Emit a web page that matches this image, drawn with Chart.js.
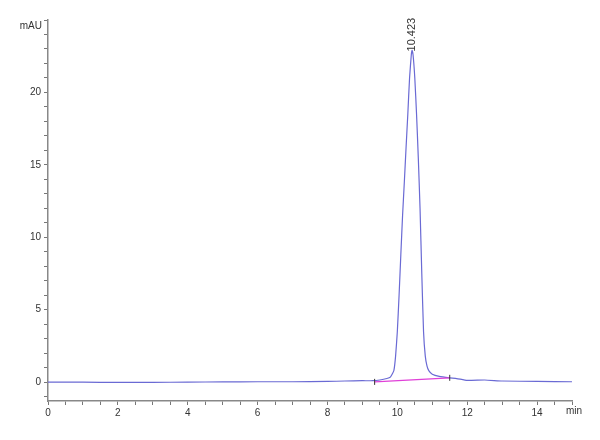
<!DOCTYPE html>
<html lang="en">
<head>
    <meta charset="UTF-8">
    <title>Chromatogram</title>
    <script src="https://cdn.jsdelivr.net/npm/chart.js@4"></script>
    <style>
        body { margin: 0; padding: 0; background: #ffffff; }
        #wrap { width: 600px; height: 440px; }
    </style>
</head>
<body>
    <div id="wrap"><canvas id="chrom" width="600" height="440"></canvas></div>
    <script>
        // signal trace (time in min, absorbance in mAU)
        const times = [0, 1, 2, 3, 4, 5, 6, 7, 8, 8.5, 9.0, 9.3, 9.5, 9.7, 9.8, 9.9, 9.95, 10.0, 10.05, 10.1, 10.15, 10.2, 10.25, 10.3, 10.35, 10.4, 10.42, 10.45, 10.5, 10.55, 10.6, 10.65, 10.7, 10.75, 10.8, 10.85, 10.9, 11.0, 11.2, 11.5, 11.7, 12.0, 12.5, 13.0, 14.0, 15.0];
        const signal = [0.0, 0.0, -0.02, -0.01, 0.0, 0.02, 0.03, 0.03, 0.05, 0.08, 0.1, 0.1, 0.15, 0.25, 0.35, 0.8, 1.8, 3.5, 6.0, 8.8, 11.5, 13.8, 16.2, 18.5, 21.0, 22.6, 22.9, 22.6, 21.0, 18.5, 15.5, 12.0, 7.5, 3.5, 1.8, 1.1, 0.8, 0.55, 0.4, 0.3, 0.25, 0.12, 0.15, 0.08, 0.05, 0.03];

        // integration baseline
        const baseTimes = [9.35, 11.5];
        const baseValues = [0.02, 0.3];

        const peakTime = 10.423;
        const peakHeight = 22.9;
        const peakLabel = '10.423';

        const yLabelSteps = 5;
        const xLabelSteps = 2;

        const trace = times.map((t, i) => ({ x: t, y: signal[i] }));
        const baseline = baseTimes.map((t, i) => ({ x: t, y: baseValues[i] }));

        const textPlugin = {
            id: 'chromText',
            afterDraw(chart) {
                const c = chart.ctx;
                const xs = chart.scales.x, ys = chart.scales.y;
                c.save();
                c.fillStyle = '#333';
                c.font = '10px Arial, "Liberation Sans", sans-serif';
                c.textAlign = 'right';
                c.textBaseline = 'middle';
                c.fillText('mAU', chart.chartArea.left - 6, chart.chartArea.top + 6);
                c.textAlign = 'left';
                c.fillText('min', chart.chartArea.right - 6, chart.chartArea.bottom + 10);
                // peak label, vertical
                const px = xs.getPixelForValue(peakTime);
                const py = ys.getPixelForValue(peakHeight);
                c.translate(px, py + 1);
                c.rotate(-Math.PI / 2);
                c.font = '11px Arial, "Liberation Sans", sans-serif';
                c.textAlign = 'left';
                c.fillText(peakLabel, 0, 0);
                c.restore();
            }
        };

        const ctx = document.getElementById('chrom').getContext('2d');
        new Chart(ctx, {
            type: 'scatter',
            data: {
                datasets: [
                    {
                        data: trace,
                        showLine: true,
                        borderColor: '#6a6ad4',
                        borderWidth: 1.2,
                        pointRadius: 0,
                        tension: 0.15,
                        order: 1
                    },
                    {
                        data: baseline,
                        showLine: true,
                        borderColor: '#e040d8',
                        borderWidth: 1.2,
                        pointStyle: 'line',
                        rotation: 90,
                        pointRadius: 3,
                        pointBorderColor: '#333',
                        pointBorderWidth: 1,
                        order: 0
                    }
                ]
            },
            options: {
                responsive: false,
                animation: false,
                layout: { padding: { left: 0, top: 20, right: 28, bottom: 0 } },
                plugins: { legend: { display: false }, tooltip: { enabled: false } },
                scales: {
                    x: {
                        type: 'linear',
                        min: 0,
                        max: 15,
                        afterFit(s) { s.height = 39; },
                        border: { color: '#888', width: 1.5 },
                        grid: { drawOnChartArea: false, tickLength: 4, color: '#777' },
                        ticks: {
                            stepSize: 0.5,
                            autoSkip: false,
                            maxRotation: 0,
                            color: '#333',
                            font: { size: 10, family: 'Arial, "Liberation Sans", sans-serif' },
                            padding: 2,
                            callback: v => (v % xLabelSteps === 0 && v < 15) ? v : ''
                        }
                    },
                    y: {
                        min: -1.3,
                        max: 25,
                        afterFit(s) { s.width = 48; },
                        border: { color: '#888', width: 1.5 },
                        grid: { drawOnChartArea: false, tickLength: 4, color: '#777' },
                        ticks: {
                            stepSize: 1,
                            includeBounds: false,
                            autoSkip: false,
                            color: '#333',
                            font: { size: 10, family: 'Arial, "Liberation Sans", sans-serif' },
                            padding: 3,
                            callback: v => (v % yLabelSteps === 0 && v < 25) ? v : ''
                        }
                    }
                }
            },
            plugins: [textPlugin]
        });
    </script>
</body>
</html>
